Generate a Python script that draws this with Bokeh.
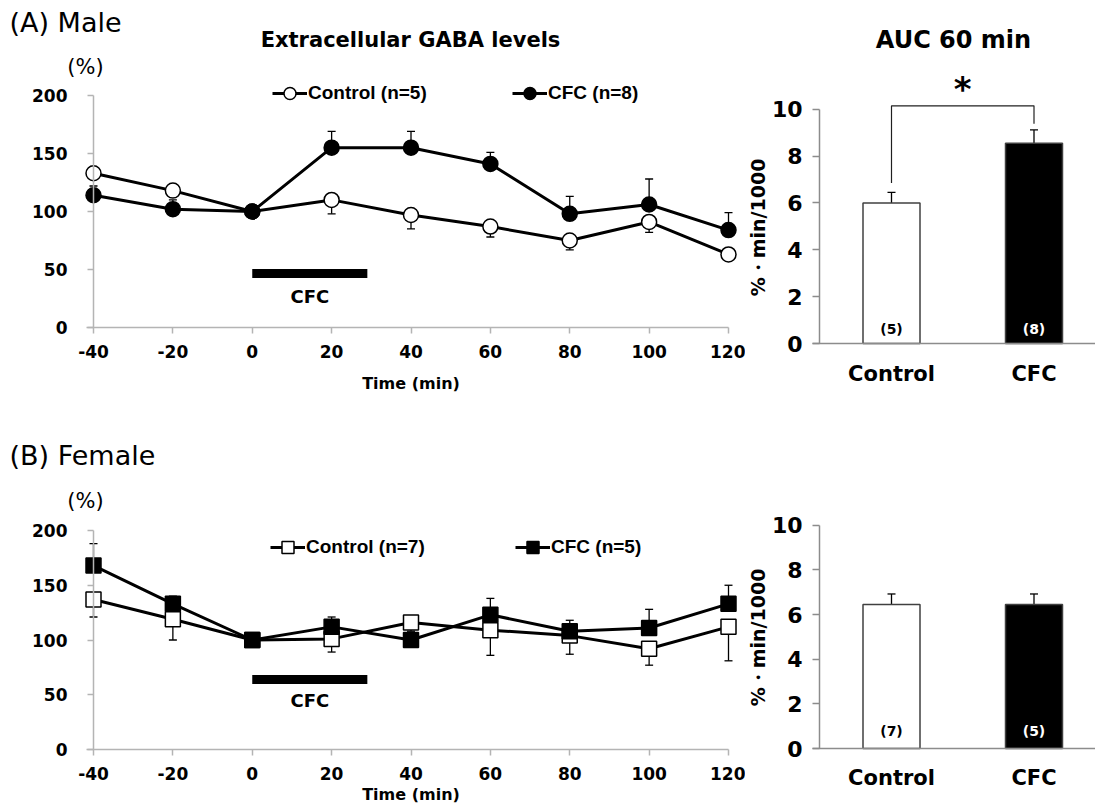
import numpy as np
from bokeh.plotting import figure
from bokeh.models import (ColumnDataSource, Whisker, TeeHead, Label, Legend, LegendItem,
                          FixedTicker, Range1d)
from bokeh.layouts import column, row
from bokeh.embed import file_html
from bokeh.resources import INLINE
from bokeh.core.properties import value

# ---------------- data ----------------
time_min = [-40, -20, 0, 20, 40, 60, 80, 100, 120]

male_ctrl = [133, 118, 100, 110, 97, 87, 75, 91, 63]
male_ctrl_err = [5, 5, 0, 12, 12, 9, 8, 9, 3]
male_cfc = [114, 102, 100, 155, 155, 141, 98, 106, 84]
male_cfc_err = [8, 8, 0, 14, 14, 10, 15, 22, 15]

female_ctrl = [137, 119, 100, 101, 116, 109, 104, 92, 112]
female_ctrl_err = [16, 19, 0, 12, 8, 23, 17, 15, 31]
female_cfc = [168, 133, 100, 112, 100, 123, 108, 111, 133]
female_cfc_err = [20, 7, 0, 9, 6, 15, 10, 17, 17]

y_ticks_line = [0, 50, 100, 150, 200]
cfc_period = [0, 29]

groups = ["Control", "CFC"]
male_n = [5, 8]
female_n = [7, 5]
male_auc = [6.0, 8.55]
male_auc_err = [0.45, 0.57]
female_auc = [6.45, 6.45]
female_auc_err = [0.47, 0.47]
y_ticks_auc = [0, 2, 4, 6, 8, 10]
male_sig_y = 10.15

LINE_GRAY = "#b4b4b4"
BAR_GRAY = "#8c8c8c"
WIDE = "DejaVu Sans"


class Frame:
    """Maps page pixels of one plot frame to its data coordinates."""
    def __init__(self, left, top, width, height, x0, x0_px, xppu, y0, y0_px, yppu):
        self.left, self.top, self.width, self.height = left, top, width, height
        self.xppu, self.yppu = xppu, yppu
        self.x_start = x0 - (x0_px - left) / xppu
        self.x_end = self.x_start + width / xppu
        self.y_end = y0 + (y0_px - top) / yppu
        self.y_start = self.y_end - height / yppu

    def x(self, px):
        return self.x_start + (px - self.left) / self.xppu

    def y(self, py):
        return self.y_end - (py - self.top) / self.yppu

    def figure(self):
        return figure(frame_width=self.width, frame_height=self.height,
                      min_border_left=0, min_border_right=0,
                      min_border_top=0, min_border_bottom=0,
                      x_range=Range1d(self.x_start, self.x_end),
                      y_range=Range1d(self.y_start, self.y_end),
                      output_backend="svg", toolbar_location=None, title=None)


def style_axes(p, gray):
    p.outline_line_color = None
    p.xgrid.visible = False
    p.ygrid.visible = False
    p.axis.axis_line_color = gray
    p.axis.axis_line_width = 1.5
    p.axis.major_tick_line_color = gray
    p.axis.major_tick_line_width = 1.5
    p.axis.minor_tick_line_color = None
    p.axis.major_tick_in = 0
    p.axis.major_label_text_font = WIDE
    p.axis.major_label_text_font_style = "bold"
    p.axis.major_label_text_color = "black"


def text_label(x, y, text, size, bold=True, align="center", angle=0.0, font=WIDE):
    return Label(x=x, y=y, text=text, text_font=font, text_font_size=size,
                 text_font_style="bold" if bold else "normal", text_color="black",
                 text_align=align, text_baseline="middle", angle=angle)


def line_panel(fr, ctrl, ctrl_err, cfc, cfc_err, marker, n, panel_text, panel_py,
               pct_py, legend_py, legend_px, shock_py, shock_text_py, time_py,
               title=None, title_py=None):
    p = fr.figure()
    style_axes(p, LINE_GRAY)
    p.yaxis.fixed_location = time_min[0]
    p.yaxis.ticker = FixedTicker(ticks=y_ticks_line)
    p.yaxis.bounds = (y_ticks_line[0], y_ticks_line[-1])
    p.yaxis.major_tick_out = 6
    p.yaxis.major_label_standoff = 20
    p.yaxis.major_label_text_font_size = "17px"
    p.xaxis.fixed_location = y_ticks_line[0]
    p.xaxis.ticker = FixedTicker(ticks=time_min)
    p.xaxis.major_label_overrides = {t: str(t) for t in time_min}
    p.xaxis.bounds = (fr.x(86), time_min[-1])
    p.xaxis.major_tick_out = 6
    p.xaxis.major_label_standoff = 11
    p.xaxis.major_label_text_font_size = "17px"

    src = ColumnDataSource(dict(
        t=time_min, ctrl=ctrl, cfc=cfc,
        ctrl_lo=[v - e for v, e in zip(ctrl, ctrl_err)],
        cfc_hi=[v + e for v, e in zip(cfc, cfc_err)]))
    p.add_layout(Whisker(source=src, base="t", upper="ctrl", lower="ctrl_lo",
                         dimension="height", line_color="black", line_width=1.3,
                         upper_head=None,
                         lower_head=TeeHead(size=8, line_color="black", line_width=1.3)))
    p.add_layout(Whisker(source=src, base="t", upper="cfc_hi", lower="cfc",
                         dimension="height", line_color="black", line_width=1.3,
                         lower_head=None,
                         upper_head=TeeHead(size=8, line_color="black", line_width=1.3)))

    # CFC conditioning period bar
    p.segment(x0=[cfc_period[0]], y0=[fr.y(shock_py)], x1=[cfc_period[1]], y1=[fr.y(shock_py)],
              line_color="black", line_width=9, line_cap="butt")
    p.add_layout(text_label(sum(cfc_period) / 2, fr.y(shock_text_py), "CFC", "18px"))

    l_ctrl = p.line("t", "ctrl", source=src, line_color="black", line_width=3)
    l_cfc = p.line("t", "cfc", source=src, line_color="black", line_width=3)
    s_ctrl = p.scatter("t", "ctrl", source=src, marker=marker, size=15,
                       fill_color="white", line_color="black", line_width=1.5)
    s_cfc = p.scatter("t", "cfc", source=src, marker=marker, size=15,
                      fill_color="black", line_color="black", line_width=1.5)

    vy = fr.top + fr.height - legend_py
    for label, rends, px in [(f"Control (n={n[0]})", [l_ctrl, s_ctrl], legend_px[0]),
                             (f"CFC (n={n[1]})", [l_cfc, s_cfc], legend_px[1])]:
        lg = Legend(items=[LegendItem(label=label, renderers=rends)],
                    location=(px - fr.left, vy), orientation="horizontal",
                    padding=0, margin=0, spacing=0,
                    glyph_width=35, glyph_height=30, label_height=30, label_standoff=1,
                    label_text_font="Liberation Sans", label_text_font_style="bold",
                    label_text_font_size="19px", label_text_color="black",
                    border_line_color=None, background_fill_alpha=0)
        p.add_layout(lg)

    p.add_layout(text_label(fr.x(9), fr.y(panel_py), panel_text, "27px", bold=False,
                            align="left"))
    p.add_layout(text_label(fr.x(85), fr.y(pct_py), "(%)", "21px", bold=False))
    p.add_layout(text_label((time_min[0] + time_min[-1]) / 2, fr.y(time_py),
                            "Time (min)", "16px"))
    if title:
        p.add_layout(text_label(fr.x(410), fr.y(title_py), title, "21px"))
    return p


def bar_panel(fr, vals, errs, n, ylabel_py, n_offset, xlabel_py, title=None, sig_y=None):
    p = fr.figure()
    style_axes(p, BAR_GRAY)
    xs = list(range(len(groups)))
    axis_x = fr.x(819)
    p.yaxis.fixed_location = axis_x
    p.yaxis.ticker = FixedTicker(ticks=y_ticks_auc)
    p.yaxis.bounds = (y_ticks_auc[0], y_ticks_auc[-1])
    p.yaxis.major_tick_out = 7
    p.yaxis.major_label_standoff = 10
    p.yaxis.major_label_text_font_size = "22px"
    p.xaxis.fixed_location = y_ticks_auc[0]
    p.xaxis.ticker = FixedTicker(ticks=xs)
    p.xaxis.major_label_overrides = {i: "" for i in xs}
    p.xaxis.bounds = (fr.x(812), fr.x_end)
    p.xaxis.major_tick_out = 0

    src = ColumnDataSource(dict(
        x=xs, top=vals, hi=[v + e for v, e in zip(vals, errs)],
        fill=["white", "black"], txt=[f"({k})" for k in n], tc=["black", "white"],
        grp=groups))
    p.add_layout(Whisker(source=src, base="x", upper="hi", lower="top",
                         dimension="height", line_color="black", line_width=1.3,
                         lower_head=None,
                         upper_head=TeeHead(size=8, line_color="black", line_width=1.3)))
    p.vbar(x="x", top="top", bottom=0, width=0.4, fill_color="fill",
           line_color="#404040", line_width=1.5, source=src)
    p.text(x="x", y=0, text="txt", text_color="tc", y_offset=n_offset, source=src,
           text_font=value(WIDE), text_font_style="bold", text_font_size="14px",
           text_align="center", text_baseline="middle")
    # category names under the axis
    p.text(x="x", y=fr.y(xlabel_py), text="grp", source=src, text_color="black",
           text_font=value(WIDE), text_font_style="bold", text_font_size="21px",
           text_align="center", text_baseline="middle")

    if sig_y is not None:
        bx = [xs[0], xs[0], xs[1], xs[1]]
        by = [vals[0] + errs[0] + 0.4, sig_y, sig_y, vals[1] + errs[1] + 0.26]
        p.line(x=bx, y=by, line_color="#202020", line_width=1.2)
        p.add_layout(text_label((xs[0] + xs[1]) / 2, fr.y(88), "*", "34px"))

    p.add_layout(text_label(fr.x(757), fr.y(ylabel_py), "%・min/1000", "19px",
                            angle=np.pi / 2))
    if title:
        p.add_layout(text_label(fr.x(953), fr.y(39), title, "24px"))
    return p


# frames: left/top/width/height in page px, then a data anchor and px per unit
fa = Frame(0, 0, 745, 420, time_min[0], 93, 3.96875, 0, 327, 1.16)
fb = Frame(745, 0, 350, 420, 0, 891, 142.5, 0, 343, 23.42)
fc = Frame(0, 420, 745, 385, time_min[0], 93, 3.96875, 0, 749, 1.095)
fd = Frame(745, 420, 350, 385, 0, 891, 142.5, 0, 748, 22.33)

pa = line_panel(fa, male_ctrl, male_ctrl_err, male_cfc, male_cfc_err, "circle", male_n,
                "(A) Male", 22, 66, 108, (272, 512), 273, 296, 383,
                title="Extracellular GABA levels", title_py=39)
pb = bar_panel(fb, male_auc, male_auc_err, male_n, 227, -15, 373,
               title="AUC 60 min", sig_y=male_sig_y)
pc = line_panel(fc, female_ctrl, female_ctrl_err, female_cfc, female_cfc_err, "square",
                female_n, "(B) Female", 455, 500, 562, (270, 515), 679, 700, 794)
pd = bar_panel(fd, female_auc, female_auc_err, female_n, 637, -18, 777)

layout = column(row(pa, pb), row(pc, pd))
open("out.html", "w").write(file_html(layout, INLINE, "Extracellular GABA levels"))
